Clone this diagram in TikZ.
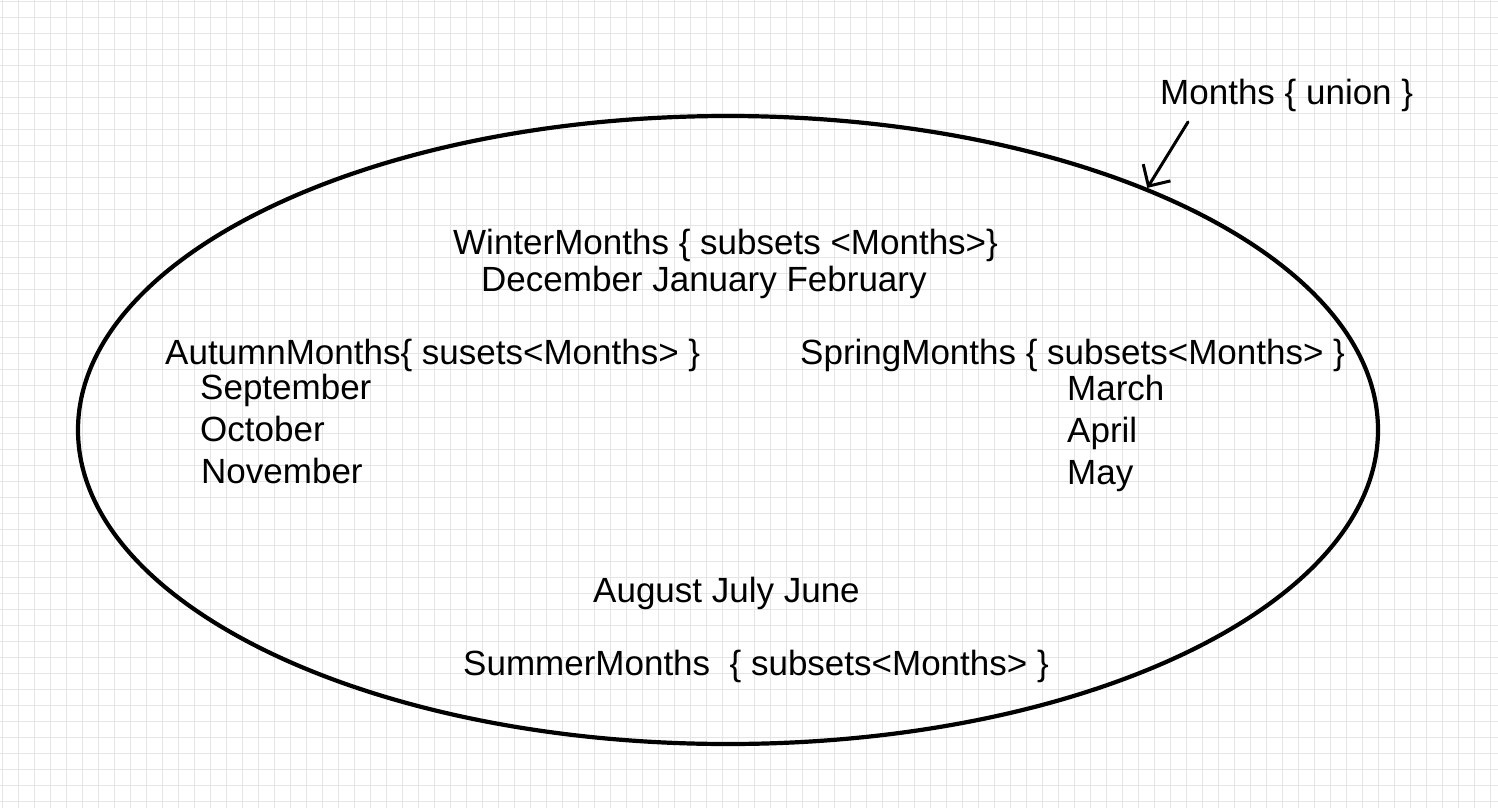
\documentclass[tikz,border=0pt]{standalone}
\usepackage{fontspec}
\setmainfont{Liberation Sans}
\usetikzlibrary{arrows.meta,shapes.geometric}
\begin{document}
\begin{tikzpicture}[x=1pt,y=-1pt,
  gridline/.style={draw=black!10, line width=1.4pt},
  txt/.style={anchor=base west, inner sep=0pt, font=\fontsize{35}{40}\selectfont},
  setshape/.style={ellipse, draw, line width=4.2pt, inner sep=0pt,
                   minimum width=1300pt, minimum height=628pt},
  pointer/.style={line width=3pt, line cap=round,
                  -{Straight Barb[length=16pt, width=32pt, line width=3pt]}},
  ]
\useasboundingbox (0,0) rectangle (1498,808);
\fill[white] (0,0) rectangle (1498,808);

% squared paper
\begin{scope}
  \clip (0,0) rectangle (1498,808);
  \foreach \i in {0,...,93} \draw[gridline] (2.5+16*\i,0) -- (2.5+16*\i,808);
  \foreach \j in {0,...,50} \draw[gridline] (0,1.7+16*\j) -- (1498,1.7+16*\j);
\end{scope}

% the union set
\node[setshape] (months) at (728,430) {};

\node[txt] (union) at (1160,104) {Months \{ union \}};
\coordinate (tail) at (1188,122);
\draw[pointer] (tail) -- (months.30.7);

% subsets
\node[txt] (winter) at (453,254) {WinterMonths \{ subsets <Months>\}};
\node[txt] (winterlist) at (481,291) {December January February};

\node[txt] (autumn) at (165,364) {AutumnMonths\{ susets<Months> \}};
\node[txt] (sep) at (200,399) {September};
\node[txt] (oct) at (200,441) {October};
\node[txt] (nov) at (201,483) {November};

\node[txt] (spring) at (800,364) {SpringMonths \{ subsets<Months> \}};
\node[txt] (mar) at (1067,400) {March};
\node[txt] (apr) at (1067,442) {April};
\node[txt] (may) at (1067,484) {May};

\node[txt] (summerlist) at (593,602) {August July June};
\node[txt] (summer) at (463,675) {SummerMonths\ \ \{ subsets<Months> \}};
\end{tikzpicture}
\end{document}
